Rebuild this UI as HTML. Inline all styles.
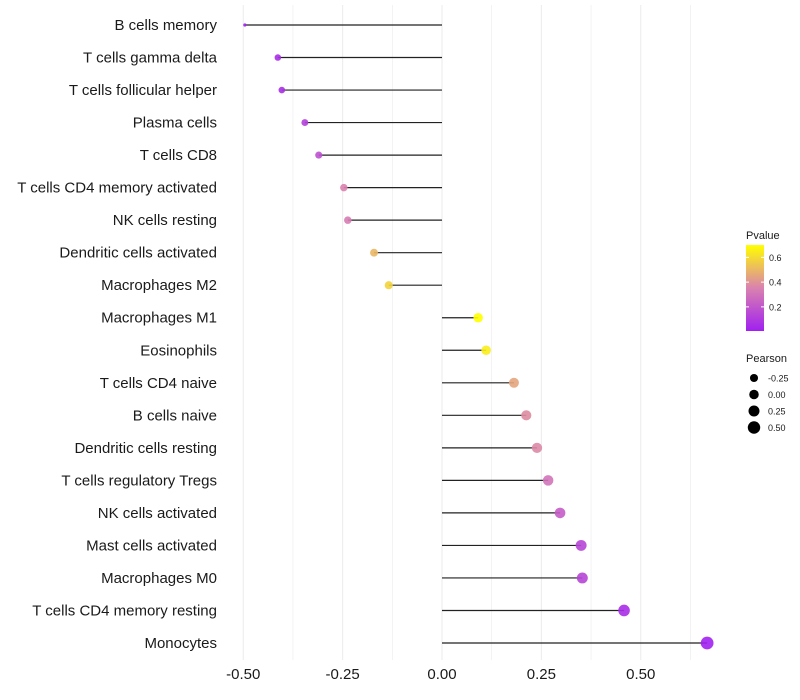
<!DOCTYPE html>
<html><head><meta charset="utf-8"><style>
body{margin:0;background:#fff;font-family:"Liberation Sans",sans-serif;}
svg{display:block}
</style></head><body>
<svg id="c" width="800" height="700" xmlns="http://www.w3.org/2000/svg"></svg>
<script>
const categories=["B cells memory","T cells gamma delta","T cells follicular helper","Plasma cells","T cells CD8","T cells CD4 memory activated","NK cells resting","Dendritic cells activated","Macrophages M2","Macrophages M1","Eosinophils","T cells CD4 naive","B cells naive","Dendritic cells resting","T cells regulatory  Tregs ","NK cells activated","Mast cells activated","Macrophages M0","T cells CD4 memory resting","Monocytes"];
const pearson=[-0.496,-0.413,-0.403,-0.345,-0.31,-0.247,-0.237,-0.171,-0.134,0.091,0.111,0.181,0.212,0.239,0.267,0.297,0.35,0.353,0.458,0.667];
const pvalue=[0.01,0.05,0.06,0.12,0.18,0.35,0.33,0.5,0.58,0.7,0.65,0.45,0.38,0.37,0.3,0.22,0.14,0.14,0.05,0.01];
const xTicks=[-0.5,-0.25,0,0.25,0.5];
const xTickLabels=["-0.50","-0.25","0.00","0.25","0.50"];
const pTicks=[0.2,0.4,0.6];
const sizeTicks=[-0.25,0,0.25,0.5];
const sizeTickLabels=["-0.25","0.00","0.25","0.50"];

const NS="http://www.w3.org/2000/svg";
const svg=document.getElementById('c');
function mk(t,a,p){const e=document.createElementNS(NS,t);for(const k in a)e.setAttribute(k,a[k]);(p||svg).appendChild(e);return e;}
const x=v=>442+v*397.5;
const y=i=>25+i*(643-25)/19;
const r=v=>v<-0.45?1.6:3.3+(v+0.4)*2.9;
function col(p){const t=Math.max(0,Math.min(1,(p-0.005)/0.695));
 const a=[160,32,240],m=[218,130,175],b=[255,255,0];
 let c;if(t<0.5){const s=t/0.5;c=a.map((v,i)=>v+(m[i]-v)*s);}else{const s=(t-0.5)/0.5;c=m.map((v,i)=>v+(b[i]-v)*s);}
 return `rgb(${c.map(Math.round).join(',')})`;}

const grid=mk('g',{});

for(let v=-0.5;v<=0.626;v+=0.125){mk('line',{x1:x(v),x2:x(v),y1:5,y2:660,stroke:'#ebebeb','stroke-width':Math.abs(v*4-Math.round(v*4))<1e-6?1:0.6},grid);}

categories.forEach((c,i)=>{
 const t=mk('text',{x:217,y:y(i)+5,'text-anchor':'end','font-size':15,fill:'#1a1a1a'});t.textContent=c;
 
 
 const l=mk('line',{x1:x(0),x2:x(pearson[i]),y1:y(i),y2:y(i),stroke:'#222','stroke-width':1.2});
 
 
 const d=mk('circle',{cx:x(pearson[i]),cy:y(i),r:r(pearson[i]),fill:col(pvalue[i]),'fill-opacity':0.9});
 
 
});
xTicks.forEach((v,i)=>{const t=mk('text',{x:x(v),y:679,'text-anchor':'middle','font-size':15,fill:'#1a1a1a'});t.textContent=xTickLabels[i];
 
 });

const lg=mk('g',{});
const defs=mk('defs',{});const gr=mk('linearGradient',{id:'pg',x1:0,y1:1,x2:0,y2:0},defs);
for(let k=0;k<=10;k++){const p=0.005+0.695*k/10;mk('stop',{offset:k/10,'stop-color':col(p)},gr);}
const lt=mk('text',{x:746,y:239,'font-size':11,fill:'#1a1a1a'},lg);lt.textContent='Pvalue';
mk('rect',{x:746,y:245,width:18,height:86,fill:'url(#pg)'},lg);
const py=p=>331-(p-0.005)/0.695*86;
pTicks.forEach(p=>{mk('line',{x1:746,x2:749,y1:py(p),y2:py(p),stroke:'#fff'},lg);mk('line',{x1:761,x2:764,y1:py(p),y2:py(p),stroke:'#fff'},lg);
 const t=mk('text',{x:769,y:py(p)+3.5,'font-size':9,fill:'#1a1a1a'},lg);t.textContent=p.toFixed(1);});
const sg=mk('g',{});
const st=mk('text',{x:746,y:362,'font-size':11,fill:'#1a1a1a'},sg);st.textContent='Pearson';
sizeTicks.forEach((v,i)=>{const cy=378+i*16.5;mk('circle',{cx:754,cy:cy,r:r(v)+0.3,fill:'#000'},sg);
 const t=mk('text',{x:768,y:cy+3.5,'font-size':9,fill:'#1a1a1a'},sg);t.textContent=sizeTickLabels[i];});
</script>
</body></html>
